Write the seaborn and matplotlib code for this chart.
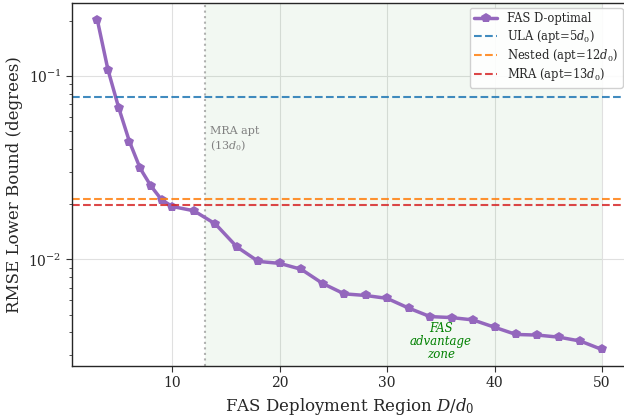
import seaborn as sns
import pandas as pd
import matplotlib.pyplot as plt

# FAS D-optimal RMSE bound vs deployment region
D = [3, 4, 5, 6, 7, 8, 9, 10, 12, 14, 16, 18, 20, 22, 24, 26, 28, 30,
     32, 34, 36, 38, 40, 42, 44, 46, 48, 50]
rmse_fas = [0.2025, 0.1077, 0.0669, 0.0438, 0.0313, 0.0251, 0.0211, 0.0194,
            0.0184, 0.0156, 0.0117, 0.00975, 0.00951, 0.00883, 0.00739,
            0.00649, 0.00636, 0.00613, 0.00543, 0.00488, 0.00482, 0.00468,
            0.00427, 0.0039, 0.00387, 0.00377, 0.00359, 0.00323]

# fixed-array baselines
baseline_names = ["ULA (apt=$5d_0$)", "Nested (apt=$12d_0$)", "MRA (apt=$13d_0$)"]
baseline_rmse = [0.0767, 0.02137, 0.01976]
baseline_colors = ["tab:blue", "tab:orange", "tab:red"]

mra_aperture = 13
zone_end = 50

data = pd.DataFrame({"D": D, "rmse": rmse_fas})

sns.set_style("whitegrid")
plt.rcParams["font.family"] = ["DejaVu Serif"]
plt.rcParams["mathtext.fontset"] = "dejavuserif"

fig = plt.figure(figsize=(6.24, 4.19), dpi=100)
ax = fig.add_axes([0.1154, 0.1265, 0.8896, 0.8663])

ax.axvspan(mra_aperture, zone_end, color="green", alpha=0.05, lw=0)
ax.axvline(mra_aperture, color="gray", ls=":", lw=1.5, alpha=0.6)

sns.lineplot(x="D", y="rmse", data=data, ax=ax, color="tab:purple",
             marker="p", markersize=7.5, linewidth=2.5, markeredgewidth=0,
             label="FAS D-optimal")

for name, val, col in zip(baseline_names, baseline_rmse, baseline_colors):
    ax.axhline(val, color=col, ls="--", lw=1.5, alpha=0.85, label=name)

ax.set_yscale("log")

ax.text(13.5, 0.045, "MRA apt\n($13d_0$)", color="gray", fontsize=8,
        va="center", ha="left")
ax.text(35, 0.00355, "FAS\nadvantage\nzone", color="green", fontsize=8.5,
        style="italic", ha="center", va="center", linespacing=1.0)

ax.set_xlabel("FAS Deployment Region $D/d_0$", fontsize=12)
ax.set_ylabel("RMSE Lower Bound (degrees)", fontsize=12)
ax.tick_params(labelsize=10)
ax.tick_params(axis="y", which="both", left=True, length=4, color="0.2")
ax.tick_params(axis="y", which="minor", length=2.5)
ax.tick_params(axis="x", bottom=True, length=4, color="0.2")
ax.grid(True, which="major", color="0.88", lw=0.8)

for s in ax.spines.values():
    s.set_color("0.15")
    s.set_linewidth(1.0)

ax.legend(loc="upper right", fontsize=8.3, framealpha=0.9,
          borderaxespad=0.4, handlelength=2.0, labelspacing=0.2)

plt.savefig("out.png", dpi=100)
